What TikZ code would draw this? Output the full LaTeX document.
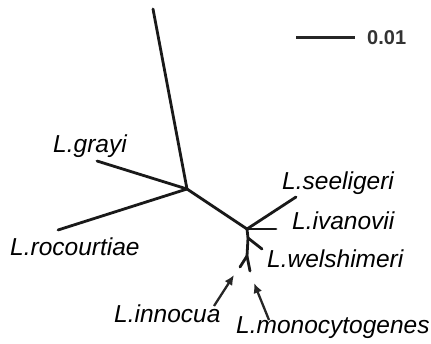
\documentclass[tikz,border=0pt]{standalone}
\usepackage{fontspec}
\setmainfont{Liberation Sans}
\usetikzlibrary{arrows.meta}
\begin{document}
\begin{tikzpicture}[x=1pt,y=-1pt,
  branch/.style={line width=2.8pt, line cap=round, line join=round, black!90},
  lbl/.style={inner sep=0pt, anchor=base west, font=\fontsize{24.5}{28}\selectfont\itshape},
  pointer/.style={line width=2.3pt, -{Latex[length=10pt,width=9pt]}, black!85},
  scalelbl/.style={inner sep=0pt, anchor=base west, font=\fontsize{20}{22}\selectfont\bfseries, black!80}]
\useasboundingbox (0,0) rectangle (431,343);
% tree coordinates
\coordinate (top) at (153,9);
\coordinate (j1) at (187,189);
\coordinate (gr) at (97,161);
\coordinate (ro) at (58,230);
\coordinate (j2) at (247,229);
\coordinate (se) at (296,197);
\coordinate (iv) at (276,229);
\coordinate (j3) at (248,238);
\coordinate (we) at (262,249);
\coordinate (j4) at (247,256);
\coordinate (in) at (240,267);
\coordinate (mo) at (250,271);
% branches
\draw[branch] (top) -- (j1);
\draw[branch] (gr) -- (j1);
\draw[branch] (ro) -- (j1);
\draw[branch] (j1) -- (j2);
\draw[branch] (j2) -- (se);
\draw[branch] (j2) -- (iv);
\draw[branch] (j2) -- (j3);
\draw[branch] (j3) -- (we);
\draw[branch] (j3) -- (j4);
\draw[branch] (j4) -- (in);
\draw[branch] (j4) -- (mo);
% labels
\node[lbl] (lgr) at (53,152) {L.grayi};
\node[lbl] (lro) at (10,255) {L.rocourtiae};
\node[lbl] (lse) at (282,189) {L.seeligeri};
\node[lbl] (liv) at (292,229) {L.ivanovii};
\node[lbl] (lwe) at (267,267) {L.welshimeri};
\node[lbl] (lin) at (114,322) {L.innocua};
\node[lbl] (lmo) at (236,333) {L.monocytogenes};
% arrows
\coordinate (ina) at (214,306);
\coordinate (inb) at (234,275);
\coordinate (moa) at (269,320);
\coordinate (mob) at (254,283);
\draw[pointer] (ina) -- (inb);
\draw[pointer] (moa) -- (mob);
% scale bar
\coordinate (sb1) at (296,37);
\coordinate (sb2) at (355,37);
\draw[line width=3pt, black!85] (sb1) -- (sb2);
\node[scalelbl] (sbl) at (367,44) {0.01};
\end{tikzpicture}
\end{document}
